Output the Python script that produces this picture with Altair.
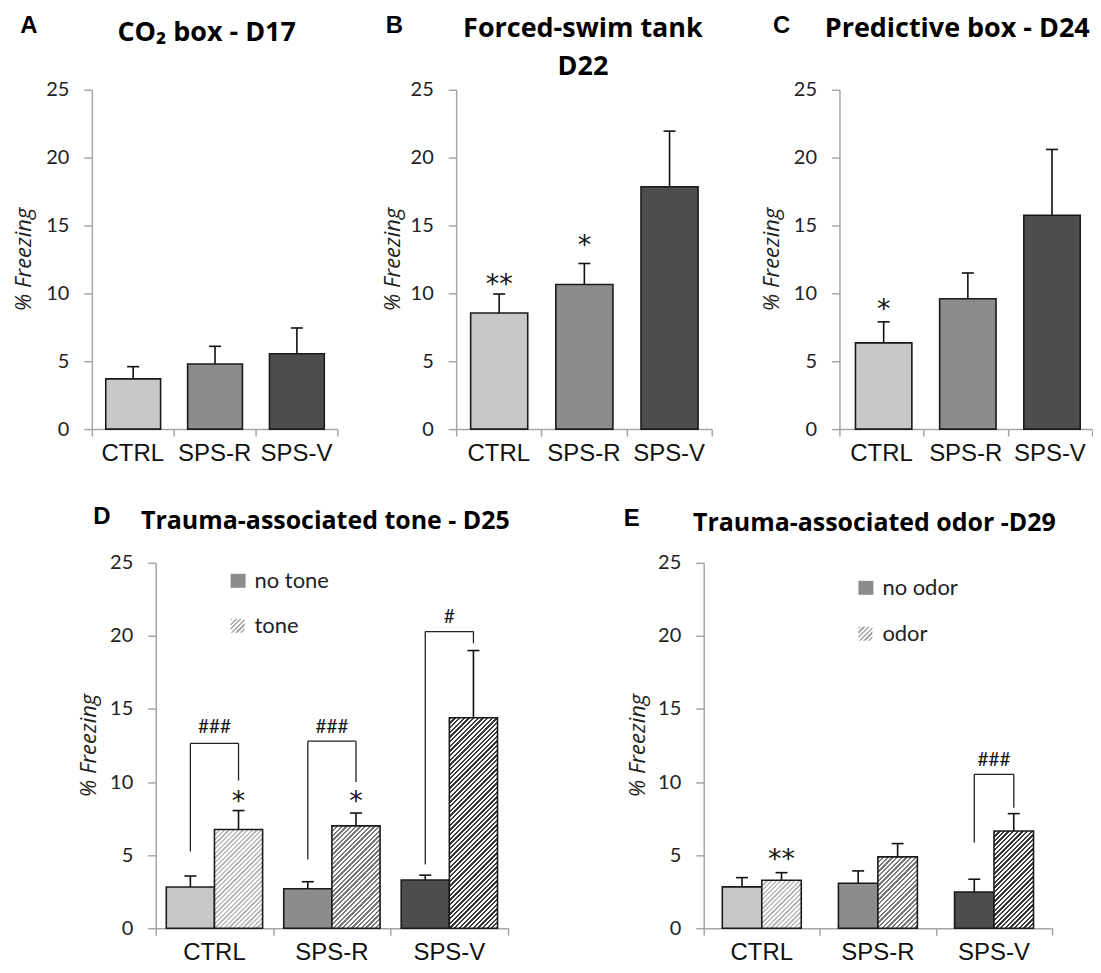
import altair as alt
import pandas as pd

# ---------------- data ----------------
GROUPS = ["CTRL", "SPS-R", "SPS-V"]
Y_TICKS = [0, 5, 10, 15, 20, 25]

A_MEAN = [3.70, 4.80, 5.55]
A_SEM = [0.90, 1.30, 1.90]
B_MEAN = [8.55, 10.65, 17.85]
B_SEM = [1.40, 1.55, 4.10]
C_MEAN = [6.35, 9.60, 15.75]
C_SEM = [1.55, 1.90, 4.85]

D_NOTONE = [2.82, 2.70, 3.30]
D_NOTONE_SEM = [0.75, 0.48, 0.33]
D_TONE = [6.75, 7.00, 14.40]
D_TONE_SEM = [1.30, 0.88, 4.60]

E_NOODOR = [2.83, 3.08, 2.48]
E_NOODOR_SEM = [0.63, 0.84, 0.87]
E_ODOR = [3.28, 4.88, 6.65]
E_ODOR_SEM = [0.52, 0.91, 1.19]

# (group, series index, text, y)
B_STARS = [("CTRL", 0, "**", 11.1), ("SPS-R", 0, "*", 14.0)]
C_STARS = [("CTRL", 0, "*", 9.3)]
D_STARS = [("CTRL", 1, "*", 9.1), ("SPS-R", 1, "*", 9.1)]
E_STARS = [("CTRL", 1, "**", 5.17)]
# (group, text, top, left leg bottom, right leg bottom, text y)
D_BRACKETS = [("CTRL", "###", 12.65, 5.25, 10.1, 13.8),
              ("SPS-R", "###", 12.8, 4.7, 10.0, 13.8),
              ("SPS-V", "#", 20.3, 4.35, 19.5, 21.3)]
E_BRACKETS = [("SPS-V", "###", 10.53, 5.86, 8.25, 11.49)]

# ---------------- style ----------------
FILLS = ["#c8c8c8", "#8c8c8c", "#4d4d4d"]
HATCH = ["#bcbcbc", "#7a7a7a", "#3a3a3a"]
AXC = "#a6a6a6"
TXT_FONT = "Lato"
TITLE_FONT = "Open Sans"
CAT_FONT = "Liberation Sans"


def hatch_gradient(color, w, h, period=3.3):
    a, b = 1.0 / h, 1.0 / w
    t = (a + b) / (a * a + b * b)
    total = (w + h) / 2 ** 0.5
    step = period / total
    stops = []
    k = 0
    while k * step < 1:
        o0 = k * step
        o1 = min(1.0, (k + 0.5) * step)
        o2 = min(1.0, (k + 1) * step)
        stops += [{"offset": o0, "color": color}, {"offset": o1, "color": color},
                  {"offset": o1, "color": "#ffffff"}, {"offset": o2, "color": "#ffffff"}]
        k += 1
    return {"gradient": "linear", "x1": 0, "y1": 0, "x2": t * a, "y2": t * b, "stops": stops}


def txt(s, x, y, size, font=TXT_FONT, weight="normal", style="normal", angle=0,
        align="center", baseline="middle", color="#111111"):
    return alt.Chart(pd.DataFrame({"t": [s]})).mark_text(
        font=font, fontSize=size, fontWeight=weight, fontStyle=style, angle=angle,
        align=align, baseline=baseline, color=color
    ).encode(x=alt.value(x), y=alt.value(y), text="t:N")


def make_panel(W, H, series, stars, brackets, letter, letter_xy, titles, title_size,
               ytitle_x, cat_dy, legend=None):
    XS = alt.Scale(domain=[0, 3], nice=False, zero=False)
    YS = alt.Scale(domain=[0, 25], nice=False)
    XAX = alt.Axis(values=[0, 1, 2, 3], labels=False, title=None, tickSize=7,
                   domainColor=AXC, tickColor=AXC, domainWidth=1.5, tickWidth=1.5, grid=False)
    YAX = alt.Axis(values=Y_TICKS, title=None, tickSize=8, labelPadding=15,
                   domainColor=AXC, tickColor=AXC, domainWidth=1.5, tickWidth=1.5,
                   labelFont=TXT_FONT, labelFontSize=20, labelColor="#222222", grid=False)
    unit = W / 3.0
    cap = 6.0 / unit
    rows = []
    for si, (kind, means, sems, x0, x1) in enumerate(series):
        for i, g in enumerate(GROUPS):
            xa, xb = i + x0, i + x1
            xc = (xa + xb) / 2
            rows.append(dict(grp=g, gi=i, si=si, kind=kind, x0=xa, x1=xb, xc=xc,
                             mean=means[i], upper=means[i] + sems[i], zero=0.0,
                             cl=xc - cap, cr=xc + cap))
    df = pd.DataFrame(rows)

    def X(f):
        return alt.X(f, type="quantitative", scale=XS, axis=XAX)

    def Y(f):
        return alt.Y(f, type="quantitative", scale=YS, axis=YAX)

    layers = []
    solid = df[df.kind == "solid"]
    layers.append(alt.Chart(solid).mark_rect(stroke="#1a1a1a", strokeWidth=1.6).encode(
        x=X("x0"), x2="x1", y=Y("mean"), y2="zero",
        fill=alt.Fill("grp:N", scale=alt.Scale(domain=GROUPS, range=FILLS), legend=None)))
    for _, r in df[df.kind == "hatch"].iterrows():
        w = (r.x1 - r.x0) * unit
        h = r["mean"] / 25.0 * H
        grad = hatch_gradient(HATCH[int(r.gi)], w, h)
        layers.append(alt.Chart(pd.DataFrame([r])).mark_rect(
            fill=grad, stroke="#1a1a1a", strokeWidth=1.6).encode(
            x=X("x0"), x2="x1", y=Y("mean"), y2="zero"))
    layers.append(alt.Chart(df).mark_rule(color="#111111", strokeWidth=1.6).encode(
        x=X("xc"), y=Y("mean"), y2="upper"))
    layers.append(alt.Chart(df).mark_rule(color="#111111", strokeWidth=1.6).encode(
        x=X("cl"), x2="cr", y=Y("upper")))

    if stars:
        srows = []
        for g, si, t, yv in stars:
            r = df[(df.grp == g) & (df.si == si)].iloc[0]
            srows.append(dict(xc=r.xc, yv=yv, t=t))
        layers.append(alt.Chart(pd.DataFrame(srows)).mark_text(
            font="DejaVu Sans", fontSize=27, color="#111111", dy=7).encode(
            x=X("xc"), y=Y("yv"), text="t:N"))
    if brackets:
        brows = []
        for g, t, top, lb, rb, ty in brackets:
            left = df[(df.grp == g) & (df.si == 0)].iloc[0].xc
            right = df[(df.grp == g) & (df.si == 1)].iloc[0].xc
            brows.append(dict(xl=left, xr=right, xm=(left + right) / 2, top=top,
                              lb=lb, rb=rb, ty=ty, t=t))
        bdf = pd.DataFrame(brows)
        bc = alt.Chart(bdf).mark_rule(color="#222222", strokeWidth=1.3)
        layers.append(bc.encode(x=X("xl"), x2="xr", y=Y("top")))
        layers.append(bc.encode(x=X("xl"), y=Y("lb"), y2="top"))
        layers.append(bc.encode(x=X("xr"), y=Y("rb"), y2="top"))
        layers.append(alt.Chart(bdf).mark_text(font=TXT_FONT, fontSize=19, color="#111111").encode(
            x=X("xm"), y=Y("ty"), text="t:N"))

    cat = pd.DataFrame({"grp": GROUPS, "xc": [i + 0.5 for i in range(3)]})
    layers.append(alt.Chart(cat).mark_text(font=CAT_FONT, fontSize=24, color="#111111").encode(
        x=X("xc"), y=alt.value(H + cat_dy), text="grp:N"))

    layers.append(txt(letter, letter_xy[0], letter_xy[1], 24, font=CAT_FONT, weight="bold",
                      color="#000000"))
    for t, tx, ty in titles:
        layers.append(txt(t, tx, ty, title_size, font=TITLE_FONT, weight="bold", color="#000000"))
    layers.append(txt("% Freezing", ytitle_x, H / 2, 22, font=TITLE_FONT, style="italic",
                      angle=270, color="#222222"))

    if legend:
        (lab1, lab2, lx, ly1, ly2) = legend
        sq = alt.Chart(pd.DataFrame({"a": [0]}))
        layers.append(sq.mark_rect(fill="#8c8c8c").encode(
            x=alt.value(lx), x2=alt.value(lx + 15), y=alt.value(ly1 - 7), y2=alt.value(ly1 + 7)))
        layers.append(sq.mark_rect(fill=hatch_gradient("#a8a8a8", 14, 14, 3.3)).encode(
            x=alt.value(lx), x2=alt.value(lx + 14), y=alt.value(ly2 - 7), y2=alt.value(ly2 + 7)))
        layers.append(txt(lab1, lx + 24, ly1, 22, align="left", color="#222222"))
        layers.append(txt(lab2, lx + 24, ly2, 22, align="left", color="#222222"))

    return alt.layer(*layers).properties(width=W, height=H)


TOP = [0.17, 0.84]
H_TOP = 340
H_BOT = 366

pA = make_panel(246, H_TOP, [("solid", A_MEAN, A_SEM, TOP[0], TOP[1])], [], [],
                "A", (-63, -64), [("CO₂ box - D17", 115, -57)], 27, -68, 25)
pB = make_panel(256, H_TOP, [("solid", B_MEAN, B_SEM, TOP[0], TOP[1])], B_STARS, [],
                "B", (-62, -64), [("Forced-swim tank", 127, -61), ("D22", 127, -23)], 27, -63, 25)
pC = make_panel(253, H_TOP, [("solid", C_MEAN, C_SEM, 0.19, 0.86)], C_STARS, [],
                "C", (-58, -64), [("Predictive box - D24", 118, -61)], 27, -68, 25)
pD = make_panel(353, H_BOT, [("solid", D_NOTONE, D_NOTONE_SEM, 0.09, 0.5),
                             ("hatch", D_TONE, D_TONE_SEM, 0.5, 0.91)], D_STARS, D_BRACKETS,
                "D", (-54, -46), [("Trauma-associated tone - D25", 170, -42)], 25, -67, 25,
                legend=("no tone", "tone", 75, 18, 63))
pE = make_panel(349, H_BOT, [("solid", E_NOODOR, E_NOODOR_SEM, 0.16, 0.5),
                             ("hatch", E_ODOR, E_ODOR_SEM, 0.5, 0.84)], E_STARS, E_BRACKETS,
                "E", (-72, -44), [("Trauma-associated odor -D29", 171, -40)], 25, -66, 25,
                legend=("no odor", "odor", 155, 25, 71))


def spacer(w):
    return alt.Chart(pd.DataFrame({"a": [0]})).mark_point(opacity=0, size=1).encode(
        x=alt.value(0), y=alt.value(0)).properties(width=w, height=1)


top_row = alt.hconcat(pA, spacer(119), pB, spacer(128), pC, spacing=0, bounds="flush")
bot_row = alt.hconcat(spacer(64), pD, spacer(196), pE, spacing=0, bounds="flush")

chart = alt.vconcat(top_row, bot_row, spacing=39).properties(
    padding={"left": 5, "top": 5, "right": 0, "bottom": -1},
    background="white"
).configure_view(stroke=None)

chart.save("out.html", embed_options={"renderer": "svg", "actions": False})
